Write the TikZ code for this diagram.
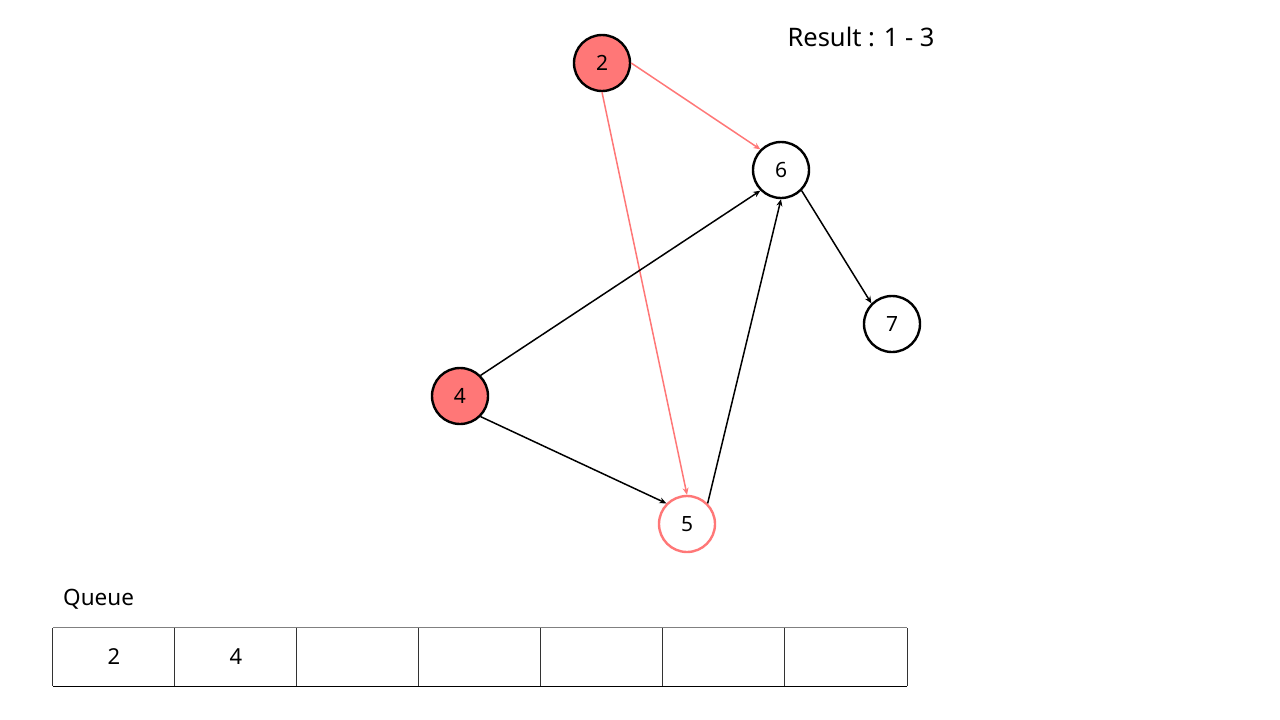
\documentclass[tikz,border=0pt]{standalone}
\usepackage{fontspec}
\setmainfont{Noto Sans}
\usetikzlibrary{arrows.meta}
\definecolor{hl}{HTML}{FF7777}
\tikzset{
  vert/.style={circle, draw=black, line width=2.4pt, minimum size=56pt, inner sep=0pt, font=\fontsize{21}{23}\selectfont},
  visited/.style={vert, fill=hl},
  current/.style={vert, draw=hl, fill=white},
  edge/.style={-{Stealth[length=7pt,width=6pt]}, line width=1.5pt, black},
  redge/.style={edge, hl},
  cell/.style={draw=none, minimum width=122pt, minimum height=58pt, inner sep=0pt, font=\fontsize{22}{24}\selectfont},
  lbl/.style={font=\fontsize{22.5}{25}\selectfont, inner sep=0pt}
}
\begin{document}
\begin{tikzpicture}[x=1pt,y=-1pt]
\useasboundingbox (0,0) rectangle (1280,720);
\node[visited] (n2) at (602,63) {2};
\node[vert] (n6) at (781,170) {6};
\node[vert] (n7) at (892,324) {7};
\node[visited] (n4) at (460,396) {4};
\node[current] (n5) at (687,524) {5};
\draw[redge] (n2.east) -- (n6.north west);
\draw[redge] (n2.south) -- (n5.north);
\draw[edge] (n4.north east) -- (n6.south west);
\draw[edge] (n4.south east) -- (n5.north west);
\draw[edge] (n5.north east) -- (n6.south);
\draw[edge] (n6.south east) -- (n7.north west);
\node[lbl, font=\fontsize{25.5}{28}\selectfont] (res) at (861,37) {Result : 1 - 3};
\node[lbl, anchor=west] (qlab) at (63,599) {Queue};
\foreach \i/\t in {0/2,1/4,2/,3/,4/,5/,6/} {
  \node[cell] (c\i) at ({53+61+122*\i},657) {\t};
}
\draw[line width=1pt, gray] (c0.north west) -- (c6.north east);
\draw[line width=1.2pt, black] (c0.south west) -- (c6.south east);
\foreach \i in {0,...,6} {
  \draw[line width=1pt, black!80] (c\i.north west) -- (c\i.south west);
}
\draw[line width=1pt, black!80] (c6.north east) -- (c6.south east);
\end{tikzpicture}
\end{document}
